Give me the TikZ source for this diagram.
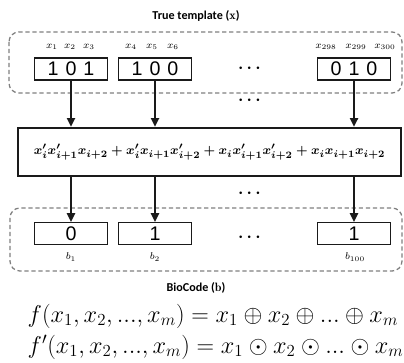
\documentclass[tikz,border=0pt]{standalone}
\usepackage{amsmath}
\usepackage{fontspec}
\setsansfont{Carlito}
\newfontfamily\bitfont{Liberation Sans}
\usetikzlibrary{arrows.meta, positioning}
\definecolor{cblack}{HTML}{1A1A1A}
\definecolor{cgrey}{HTML}{7F7F7F}
\newcommand{\bits}[3]{#1\hspace{5pt}#2\hspace{5pt}#3}
\tikzset{
  every picture/.style={line width=1pt},
  bitbox/.style={draw=cblack, line width=1pt, minimum width=18.25mm, minimum height=5.4mm, inner sep=0pt, font=\bitfont\fontsize{14}{14}\selectfont},
  core/.style={draw=cblack, line width=1.6pt, minimum width=95.75mm, minimum height=12mm, inner sep=0pt},
  arrow/.style={-{Triangle[length=2.2mm, width=2mm]}, draw=cblack, line width=1.5pt},
  group/.style={draw=cgrey, densely dashed, line width=0.9pt, rounded corners=7pt},
  title/.style={font=\sffamily\bfseries\fontsize{8.6}{10}\selectfont},
  lbl/.style={font=\fontsize{7.5}{8}\selectfont, inner sep=0pt},
  dots/.style={font=\large\boldmath, inner sep=0pt},
  eqn/.style={anchor=west, font=\fontsize{18}{20}\selectfont, inner sep=0pt},
}

\begin{document}
\begin{tikzpicture}[x=0.25mm, y=-0.25mm]
  \useasboundingbox (0,0) rectangle (404,362);
  % input template
  \node[title] (ttl) at (196,16) {True template ($\mathbf{x}$)};
  \draw[group] (9,32) rectangle (402,93);
  \node[bitbox] (t1) at (71,69) {\bits101};
  \node[bitbox] (t2) at (155,69) {\bits100};
  \node[bitbox] (t3) at (354,69) {\bits010};
  \node[dots] (tdots) at (251,69) {$\cdots$};
  \foreach \i/\x in {1/52, 2/70, 3/89, 4/131, 5/152, 6/173, 298/326, 299/356, 300/385}
    \node[lbl] (x\i) at (\x,47) {$x_{\i}$};
  % boolean function
  \node[core, font=\fontsize{9.5}{11}\selectfont\boldmath] (fn) at (209.5,152)
    {$x'_i x'_{i+1} x_{i+2} + x'_i x_{i+1} x'_{i+2} + x_i x'_{i+1} x'_{i+2} + x_i x_{i+1} x_{i+2}$};
  \node[dots] (mdots1) at (251,101) {$\cdots$};
  \node[dots] (mdots2) at (251,194) {$\cdots$};
  \foreach \k in {1,2,3} \draw[arrow] (t\k) -- (t\k |- fn.north);
  % output code
  \draw[group] (10,208) rectangle (402,271);
  \node[bitbox] (b1) at (71,233.5) {0};
  \node[bitbox] (b2) at (155,233.5) {1};
  \node[bitbox] (b3) at (354,233.5) {1};
  \node[dots] (bdots) at (251,237) {$\cdots$};
  \foreach \k in {1,2,3} \draw[arrow] (fn.south -| b\k) -- (b\k);
  \node[lbl] (lb1) at (71,257) {$b_1$};
  \node[lbl] (lb2) at (155,257) {$b_2$};
  \node[lbl] (lb3) at (355,257) {$b_{100}$};
  \node[title] (btl) at (196,288) {BioCode ($\mathbf{b}$)};
  \node[eqn] (fxor) at (27,316) {$f(x_1, x_2, ..., x_m) = x_1 \oplus x_2 \oplus ... \oplus x_m$};
  \node[eqn] (fand) at (27,347) {$f'(x_1, x_2, ..., x_m) = x_1 \odot x_2 \odot ... \odot x_m$};
\end{tikzpicture}
\end{document}
